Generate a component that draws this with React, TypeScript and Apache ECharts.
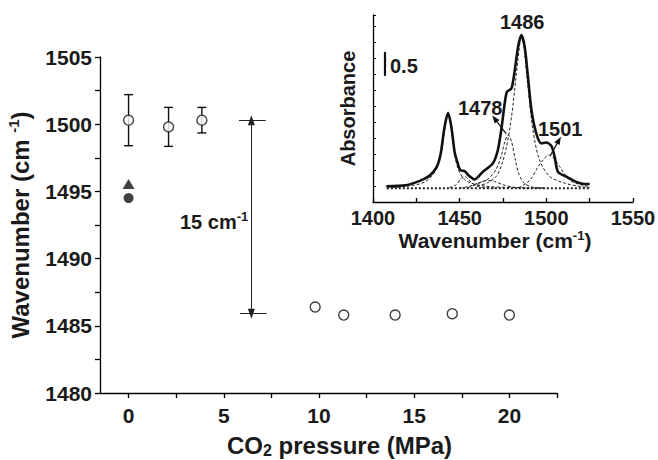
import React, { useEffect, useRef } from "react";
import * as echarts from "echarts";

// ---- Main chart data ----
const pressureErr = [0, 2.1, 3.85];
const wavenumberErr = [1500.3, 1499.8, 1500.3];
const errorSize = [1.9, 1.45, 0.95];
const pressureHigh = [9.8, 11.3, 14.0, 17.0, 20.0];
const wavenumberHigh = [1486.4, 1485.8, 1485.8, 1485.9, 1485.8];
const trianglePoint = [0, 1495.55];
const filledCirclePoint = [0, 1494.5];
const xLabelValues = [0, 5, 10, 15, 20];
const xTickValues = [0, 2.5, 5, 7.5, 10, 12.5, 15, 17.5, 20, 22.5];
const shiftX = 6.45;
const shiftTop = 1500.3;
const shiftBottom = 1485.9;

// ---- Inset spectrum data ----
const specWn = [1407.7, 1419, 1427, 1432.7, 1436.6, 1438.2, 1439.4, 1441.3, 1443.3, 1445.2, 1447.1, 1448.7, 1450.3, 1453, 1455, 1458.6, 1463.4, 1469.2, 1472, 1474, 1476, 1477.3, 1479.9, 1481.8, 1483.7, 1485.6, 1487.5, 1489.4, 1491.4, 1494.2, 1497.1, 1500, 1502.9, 1504.8, 1506.7, 1511.5, 1517.3, 1522.1, 1525];
const specAbs = [0.33, 0.35, 0.44, 0.55, 0.72, 0.875, 1.08, 1.57, 1.86, 1.57, 1.04, 0.83, 0.67, 0.64, 0.56, 0.47, 0.63, 0.81, 1.08, 1.5, 2.06, 2.3, 2.37, 2.75, 3.24, 3.48, 3.24, 2.61, 1.92, 1.43, 1.22, 1.24, 1.17, 0.94, 0.63, 0.53, 0.42, 0.375, 0.375];

const baseWn = [1408, 1525];
const baseAbs = [0.285, 0.285];

const band1443Wn = [1408, 1420, 1430, 1436, 1439.5, 1441.5, 1443.3, 1445, 1447, 1449, 1452, 1456, 1465, 1480, 1500];
const band1443Abs = [0.3, 0.33, 0.42, 0.65, 1.05, 1.55, 1.84, 1.55, 1.02, 0.7, 0.5, 0.4, 0.33, 0.3, 0.29];

const band1452Wn = [1444, 1448, 1451, 1453, 1455, 1458, 1462, 1470];
const band1452Abs = [0.3, 0.36, 0.5, 0.53, 0.47, 0.37, 0.31, 0.29];

const band1466Wn = [1450, 1456, 1461, 1466, 1470, 1475, 1481, 1490];
const band1466Abs = [0.29, 0.33, 0.4, 0.45, 0.43, 0.36, 0.31, 0.29];

const band1478Wn = [1455, 1463, 1467, 1471, 1474, 1476, 1478, 1480, 1482, 1484, 1487, 1492, 1500];
const band1478Abs = [0.3, 0.42, 0.5, 0.68, 0.96, 1.25, 1.4, 1.25, 0.9, 0.6, 0.4, 0.31, 0.29];

const band1486Wn = [1460, 1466, 1471, 1474, 1477, 1480, 1482.5, 1484.5, 1485.7, 1487, 1489.4, 1492.3, 1496, 1502, 1511, 1520, 1525];
const band1486Abs = [0.33, 0.4, 0.53, 0.75, 1.15, 1.8, 2.6, 3.25, 3.46, 3.25, 2.4, 1.5, 0.88, 0.53, 0.39, 0.32, 0.3];

const band1501Wn = [1484, 1488.5, 1491.5, 1494.2, 1497.5, 1501.5, 1504.5, 1507.7, 1510.5, 1513.4, 1517, 1521, 1525];
const band1501Abs = [0.3, 0.39, 0.5, 0.67, 0.85, 0.98, 0.9, 0.74, 0.58, 0.46, 0.39, 0.35, 0.32];

const scaleBar = { wn: 1406.7, from: 2.63, to: 3.13 };
const arrow1478 = [[1476.9, 1.42], [1470.2, 1.74]];
const arrow1501 = [[1502.2, 0.96], [1507.3, 1.29]];

const FONT = "'Liberation Sans', Arial, Helvetica, sans-serif";
const INK = "#1a1a1a";

const zip = (a: number[], b: number[]) => a.map((v, i) => [v, b[i]]);
const plain = (v: number) => String(v);

export default function App() {
  const ref = useRef<HTMLDivElement>(null);
  useEffect(() => {
    document.body.style.margin = "0";
    if (!ref.current) return;
    const chart = echarts.init(ref.current, null, { renderer: "svg" });
    const axisLineStyle = { color: "#000", width: 1.3 };
    const bold = { fontFamily: FONT, fontWeight: "bold" as const, color: INK };

    const dashedBand = (wn: number[], ab: number[]) => ({
      type: "line",
      xAxisIndex: 1,
      yAxisIndex: 1,
      data: zip(wn, ab),
      smooth: 0.3,
      showSymbol: false,
      symbol: "none",
      lineStyle: { color: "#222", width: 1, type: [3, 2] },
      z: 3,
      silent: true,
    });

    chart.setOption({
      animation: false,
      backgroundColor: "#fff",
      textStyle: { fontFamily: FONT },
      grid: [
        { left: 100, top: 57, width: 457, height: 336, containLabel: false, outerBoundsMode: "none" },
        { left: 373, top: 15, width: 260, height: 187, containLabel: false, outerBoundsMode: "none" },
      ],
      xAxis: [
        {
          type: "value",
          gridIndex: 0,
          min: -1.5,
          max: 22.5,
          axisLine: { show: true, onZero: false, lineStyle: axisLineStyle },
          axisTick: { show: true, length: 5, customValues: xTickValues, lineStyle: axisLineStyle },
          axisLabel: { ...bold, fontSize: 21, margin: 12, customValues: xLabelValues, formatter: plain },
          splitLine: { show: false },
          name: "CO{sub|2} pressure (MPa)",
          nameLocation: "middle",
          nameGap: 39,
          nameTextStyle: {
            ...bold,
            fontSize: 24,
            lineHeight: 26,
            padding: [0, 0, 0, 22],
            rich: {
              sub: { ...bold, fontSize: 16, verticalAlign: "bottom", lineHeight: 26 },
            },
          },
        },
        {
          type: "value",
          gridIndex: 1,
          min: 1400,
          max: 1550,
          interval: 50,
          axisLine: { show: true, onZero: false, lineStyle: axisLineStyle },
          axisTick: { show: true, inside: true, length: 4, lineStyle: axisLineStyle },
          minorTick: { show: true, splitNumber: 2, length: 4, lineStyle: axisLineStyle },
          axisLabel: { ...bold, fontSize: 20, margin: 6, formatter: plain },
          splitLine: { show: false },
          minorSplitLine: { show: false },
          name: "Wavenumber (cm{sup|-1})",
          nameLocation: "middle",
          nameGap: 24,
          nameTextStyle: {
            ...bold,
            fontSize: 21,
            lineHeight: 24,
            padding: [0, 16, 0, 0],
            rich: { sup: { ...bold, fontSize: 13, verticalAlign: "top", lineHeight: 24 } },
          },
        },
      ],
      yAxis: [
        {
          type: "value",
          gridIndex: 0,
          min: 1480,
          max: 1505,
          interval: 5,
          axisLine: { show: true, onZero: false, lineStyle: axisLineStyle },
          axisTick: { show: true, length: 5, lineStyle: axisLineStyle },
          minorTick: { show: true, splitNumber: 2, length: 5, lineStyle: axisLineStyle },
          axisLabel: { ...bold, fontSize: 21, margin: 8, formatter: plain },
          splitLine: { show: false },
          minorSplitLine: { show: false },
          name: "Wavenumber (cm {sup|-1})",
          nameLocation: "middle",
          nameRotate: 90,
          nameGap: 58,
          nameTextStyle: {
            ...bold,
            fontSize: 24,
            lineHeight: 28,
            rich: { sup: { ...bold, fontSize: 15, verticalAlign: "top", lineHeight: 28 } },
          },
        },
        {
          type: "value",
          gridIndex: 1,
          min: 0,
          max: 3.9,
          interval: 1 / 3,
          axisLine: { show: true, onZero: false, lineStyle: axisLineStyle },
          axisTick: { show: true, inside: true, length: 3, lineStyle: { color: "#000", width: 1 } },
          axisLabel: { show: false },
          splitLine: { show: false },
          name: "Absorbance",
          nameLocation: "middle",
          nameRotate: 90,
          nameGap: 15,
          nameTextStyle: { ...bold, fontSize: 20, padding: [0, 0, 0, 0] },
        },
      ],
      series: [
        {
          type: "custom",
          xAxisIndex: 0,
          yAxisIndex: 0,
          data: pressureErr.map((p, i) => [p, wavenumberErr[i], errorSize[i]]),
          renderItem: (params: any, api: any) => {
            const x = api.value(0);
            const y = api.value(1);
            const e = api.value(2);
            const top = api.coord([x, y + e]);
            const bot = api.coord([x, y - e]);
            const hw = 4.5;
            const st = { stroke: "#111", lineWidth: 1.4 };
            return {
              type: "group",
              children: [
                { type: "line", shape: { x1: top[0], y1: top[1], x2: bot[0], y2: bot[1] }, style: st },
                { type: "line", shape: { x1: top[0] - hw, y1: top[1], x2: top[0] + hw, y2: top[1] }, style: st },
                { type: "line", shape: { x1: bot[0] - hw, y1: bot[1], x2: bot[0] + hw, y2: bot[1] }, style: st },
              ],
            };
          },
          z: 2,
          silent: true,
        },
        {
          type: "scatter",
          xAxisIndex: 0,
          yAxisIndex: 0,
          data: zip(pressureErr, wavenumberErr),
          symbol: "circle",
          symbolSize: 10,
          itemStyle: { color: "#fff", borderColor: "#111", borderWidth: 1.4 },
          z: 4,
          silent: true,
        },
        {
          type: "scatter",
          xAxisIndex: 0,
          yAxisIndex: 0,
          data: zip(pressureHigh, wavenumberHigh),
          symbol: "circle",
          symbolSize: 10,
          itemStyle: { color: "#fff", borderColor: "#111", borderWidth: 1.4 },
          z: 4,
          silent: true,
          markLine: {
            silent: true,
            animation: false,
            label: { show: false },
            lineStyle: { color: "#222", width: 1, type: "solid" },
            symbol: "none",
            data: [
              [
                { coord: [shiftX, shiftTop], symbol: "triangle", symbolSize: [7, 10] },
                { coord: [shiftX, shiftBottom], symbol: "triangle", symbolSize: [7, 10] },
              ],
              [
                { coord: [shiftX - 0.65, shiftTop], symbol: "none" },
                { coord: [shiftX + 0.75, shiftTop], symbol: "none" },
              ],
              [
                { coord: [shiftX - 0.6, shiftBottom], symbol: "none" },
                { coord: [shiftX + 0.8, shiftBottom], symbol: "none" },
              ],
            ],
          },
        },
        {
          type: "scatter",
          xAxisIndex: 0,
          yAxisIndex: 0,
          data: [trianglePoint],
          symbol: "triangle",
          symbolSize: [12, 10],
          itemStyle: { color: "#111" },
          z: 4,
          silent: true,
        },
        {
          type: "scatter",
          xAxisIndex: 0,
          yAxisIndex: 0,
          data: [filledCirclePoint],
          symbol: "circle",
          symbolSize: 10,
          itemStyle: { color: "#111" },
          z: 4,
          silent: true,
        },
        {
          type: "line",
          xAxisIndex: 1,
          yAxisIndex: 1,
          data: zip(baseWn, baseAbs),
          showSymbol: false,
          symbol: "none",
          lineStyle: { color: "#222", width: 2, type: [2, 2] },
          z: 3,
          silent: true,
        },
        dashedBand(band1443Wn, band1443Abs),
        dashedBand(band1452Wn, band1452Abs),
        dashedBand(band1466Wn, band1466Abs),
        dashedBand(band1478Wn, band1478Abs),
        dashedBand(band1486Wn, band1486Abs),
        dashedBand(band1501Wn, band1501Abs),
        {
          type: "line",
          xAxisIndex: 1,
          yAxisIndex: 1,
          data: zip(specWn, specAbs),
          smooth: 0.25,
          showSymbol: false,
          symbol: "none",
          lineStyle: { color: "#111", width: 2.6 },
          z: 5,
          silent: true,
          markLine: {
            silent: true,
            animation: false,
            label: { show: false },
            symbol: "none",
            lineStyle: { color: "#111", width: 1.2, type: "solid" },
            data: [
              [
                { coord: [scaleBar.wn, scaleBar.from], symbol: "none", lineStyle: { width: 2.2, color: "#111", type: "solid" } },
                { coord: [scaleBar.wn, scaleBar.to], symbol: "none" },
              ],
              [
                { coord: arrow1478[0], symbol: "none" },
                { coord: arrow1478[1], symbol: "triangle", symbolSize: [6, 8] },
              ],
              [
                { coord: arrow1501[0], symbol: "none" },
                { coord: arrow1501[1], symbol: "triangle", symbolSize: [6, 8] },
              ],
            ],
          },
        },
      ],
      graphic: [
        {
          type: "text",
          left: 180,
          top: 210,
          style: {
            text: "15 cm{sup|-1}",
            fill: INK,
            font: `bold 20px ${FONT}`,
            rich: {
              sup: { fontFamily: FONT, fontWeight: "bold", fontSize: 13, fill: INK, verticalAlign: "top", lineHeight: 24 },
            },
            lineHeight: 24,
          },
          z: 10,
        },
        { type: "text", left: 458, top: 98, style: { text: "1478", fill: INK, font: `bold 20px ${FONT}` }, z: 10 },
        { type: "text", left: 500, top: 12, style: { text: "1486", fill: INK, font: `bold 20px ${FONT}` }, z: 10 },
        { type: "text", left: 538, top: 119, style: { text: "1501", fill: INK, font: `bold 20px ${FONT}` }, z: 10 },
        { type: "text", left: 390, top: 56, style: { text: "0.5", fill: INK, font: `bold 20px ${FONT}` }, z: 10 },
      ],
    });
    return () => chart.dispose();
  }, []);
  return <div ref={ref} style={{ width: 658, height: 460 }} />;
}
